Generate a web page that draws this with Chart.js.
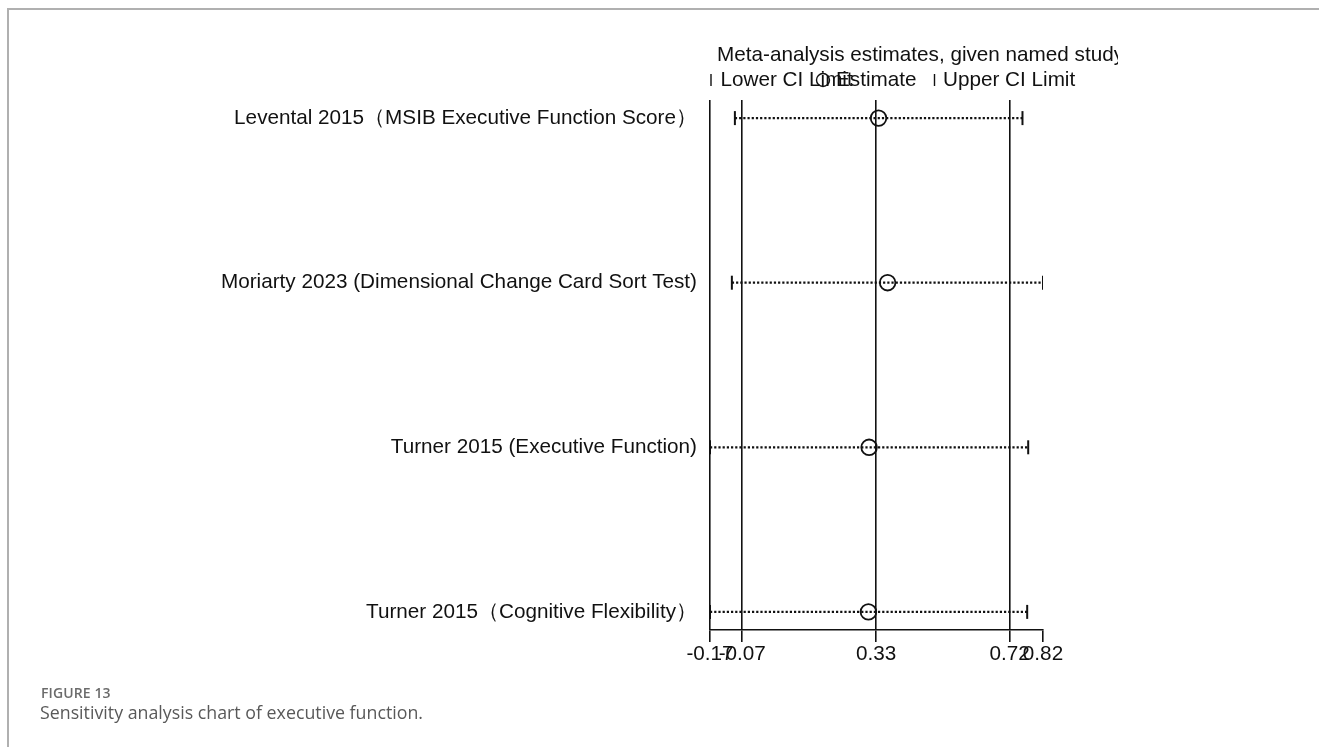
<!DOCTYPE html>
<html>
<head>
<meta charset="utf-8">
<script src="https://cdn.jsdelivr.net/npm/chart.js@4.4.1/dist/chart.umd.min.js"></script>
<style>
  html, body { margin: 0; padding: 0; background: #fff; }
  #page { position: relative; width: 1319px; height: 747px; overflow: hidden; }
  #frame { position: absolute; left: 7px; top: 8px; width: 1320px; height: 760px;
           border-left: 2px solid #b0b0b0; border-top: 2px solid #b0b0b0; box-sizing: border-box; }
  #plot { position: absolute; left: 0; top: 0; }
  #figno { position: absolute; left: 41px; top: 683px; font-family: "Open Sans", "Noto Sans", sans-serif;
           font-size: 14px; font-weight: 600; color: #6b6b6b; letter-spacing: 0.1px; }
  #figcap { position: absolute; left: 40px; top: 700px; font-family: "Open Sans", "Noto Sans", sans-serif;
            font-size: 17.8px; color: #595959; }
</style>
</head>
<body>
<div id="page">
  <div id="frame"></div>
  <canvas id="plot" width="1319" height="747"></canvas>
  <div id="figno">FIGURE 13</div>
  <div id="figcap">Sensitivity analysis chart of executive function.</div>
</div>
<script>
// Studies omitted one at a time, with the pooled estimate and CI that remain
const studies = [
  "Levental 2015（MSIB Executive Function Score）",
  "Moriarty 2023 (Dimensional Change Card Sort Test)",
  "Turner 2015 (Executive Function)",
  "Turner 2015（Cognitive Flexibility）"
];
const estimates = [0.334, 0.361, 0.306, 0.304];
const lowerCI   = [-0.093, -0.102, -0.167, -0.167];
const upperCI   = [0.762, 0.823, 0.779, 0.776];

// Overall estimate with all studies included
const pooledLower = -0.071;
const pooledEstimate = 0.327;
const pooledUpper = 0.724;

// Axis range and tick positions
const axisMin = -0.167;
const axisMax = 0.823;
const xTicks = [axisMin, pooledLower, pooledEstimate, pooledUpper, axisMax];

const chartTitle = "Meta-analysis estimates, given named study";
const legendLabels = ["Lower CI Limit", "Estimate", "Upper CI Limit"];

const FONT = '"Liberation Sans", Arial, Helvetica, sans-serif';
const FONT_SIZE = 20.7;
const INK = '#111';

// One dotted segment per study, from its lower to upper limit
const ciSets = studies.map((s, i) => ({
  type: 'line',
  label: s,
  data: [{ x: lowerCI[i], y: i + 1 }, { x: upperCI[i], y: i + 1 }],
  borderColor: INK,
  borderWidth: 2.2,
  borderDash: [2.2, 2],
  pointRadius: 0,
  order: 3
}));

const capSet = {
  type: 'scatter',
  label: 'CI limits',
  data: studies.flatMap((s, i) => [{ x: lowerCI[i], y: i + 1 }, { x: upperCI[i], y: i + 1 }]),
  pointStyle: 'line',
  rotation: 90,
  pointRadius: 7,
  borderColor: INK,
  borderWidth: 2,
  order: 2
};

const estSet = {
  type: 'scatter',
  label: 'Estimate',
  data: studies.map((s, i) => ({ x: estimates[i], y: i + 1 })),
  pointStyle: 'circle',
  pointRadius: 7.8,
  borderColor: INK,
  borderWidth: 1.8,
  backgroundColor: 'rgba(0,0,0,0)',
  order: 1
};

// Title and key above the plot area
const headerPlugin = {
  id: 'header',
  afterDraw(chart) {
    const { ctx, chartArea } = chart;
    const x0 = chartArea.left;
    ctx.save();
    ctx.fillStyle = INK;
    ctx.strokeStyle = INK;
    ctx.font = FONT_SIZE + 'px ' + FONT;
    ctx.textBaseline = 'alphabetic';
    ctx.textAlign = 'left';

    ctx.save();
    ctx.beginPath();
    ctx.rect(0, 0, 1118, 100);
    ctx.clip();
    ctx.fillText(chartTitle, x0 + 7, 61);
    ctx.restore();

    const baseY = 86;
    const midY = 80;
    ctx.lineWidth = 1.4;
    // lower limit key
    ctx.beginPath();
    ctx.moveTo(x0 + 1, midY - 6); ctx.lineTo(x0 + 1, midY + 6); ctx.stroke();
    ctx.fillText(legendLabels[0], x0 + 10.5, baseY);
    // estimate key
    ctx.beginPath();
    ctx.arc(x0 + 113, midY, 6.5, 0, Math.PI * 2); ctx.stroke();
    ctx.fillText(legendLabels[1], x0 + 126, baseY);
    // upper limit key
    ctx.beginPath();
    ctx.moveTo(x0 + 224.5, midY - 6); ctx.lineTo(x0 + 224.5, midY + 6); ctx.stroke();
    ctx.fillText(legendLabels[2], x0 + 233, baseY);
    ctx.restore();
  }
};

new Chart(document.getElementById('plot'), {
  data: { datasets: [...ciSets, capSet, estSet] },
  options: {
    responsive: false,
    animation: false,
    layout: { padding: { top: 100, right: 276, bottom: 0, left: 0 } },
    plugins: { legend: { display: false }, tooltip: { enabled: false }, title: { display: false } },
    scales: {
      x: {
        type: 'linear',
        min: axisMin,
        max: axisMax,
        afterBuildTicks(scale) { scale.ticks = xTicks.map(v => ({ value: v })); },
        afterFit(scale) { scale.height = 117; },
        ticks: {
          autoSkip: false,
          maxRotation: 0,
          minRotation: 0,
          padding: 0,
          color: INK,
          font: { family: FONT, size: FONT_SIZE },
          callback: v => Number(v).toFixed(2)
        },
        grid: {
          drawOnChartArea: true,
          color: ctx => (ctx.tick && ctx.tick.value === axisMax) ? 'rgba(0,0,0,0)' : INK,
          lineWidth: 1.6,
          tickColor: INK,
          tickLength: 12,
          tickWidth: 1.6
        },
        border: { display: true, color: INK, width: 1.6 }
      },
      y: {
        type: 'linear',
        reverse: true,
        min: 0.89,
        max: 4.11,
        afterBuildTicks(scale) { scale.ticks = studies.map((s, i) => ({ value: i + 1 })); },
        afterFit(scale) { scale.width = 710; },
        ticks: {
          autoSkip: false,
          padding: 13,
          color: INK,
          font: { family: FONT, size: FONT_SIZE },
          callback: v => studies[Math.round(v) - 1]
        },
        grid: { display: false, drawTicks: false },
        border: { display: false }
      }
    }
  },
  plugins: [headerPlugin]
});
</script>
</body>
</html>
